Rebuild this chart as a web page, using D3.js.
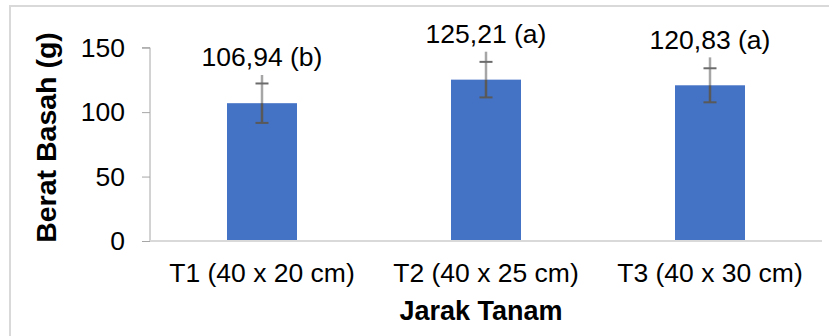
<!DOCTYPE html>
<html>
<head>
<meta charset="utf-8">
<script src="https://cdn.jsdelivr.net/npm/d3@7/dist/d3.min.js"></script>
<style>
  html, body { margin: 0; padding: 0; background: #fff; }
  svg { display: block; font-family: "Liberation Sans", Arial, sans-serif; }
</style>
</head>
<body>
<svg id="chart" width="829" height="336"></svg>
<script>
// Fresh weight per planting distance
const categories = ["T1 (40 x 20 cm)", "T2 (40 x 25 cm)", "T3 (40 x 30 cm)"];
const means = [106.94, 125.21, 120.83];
const letters = ["b", "a", "a"];
const stdDev = [15.3, 13.8, 13.2];
const whiskerTop = [128.8, 146.9, 142.5];
const yTicks = [0, 50, 100, 150];

const svg = d3.select("#chart");

// Chart frame
svg.append("rect")
  .attr("x", 10).attr("y", 6)
  .attr("width", 840).attr("height", 360)
  .attr("fill", "none")
  .attr("stroke", "#d9d9d9")
  .attr("stroke-width", 2);

const x = d3.scaleBand()
  .domain(categories)
  .range([150, 822])
  .paddingInner(0.6875)
  .paddingOuter(0.34375);

const y = d3.scaleLinear()
  .domain([0, 150])
  .range([241, 47.7]);

// Y axis
const yAxis = d3.axisLeft(y).tickValues(yTicks).tickSize(8).tickPadding(17);
const gy = svg.append("g").attr("transform", "translate(150,0)").call(yAxis);
gy.select(".domain").attr("stroke", "#a6a6a6").attr("stroke-width", 1)
  .attr("d", `M-8,${y(150)}H0V${y(0)}`);
gy.selectAll(".tick line").attr("stroke", "#a6a6a6");
gy.selectAll(".tick text")
  .attr("font-size", 26.5)
  .attr("fill", "#000")
  .attr("font-family", "Liberation Sans, Arial, sans-serif");

// Bars
svg.append("g").selectAll("rect")
  .data(categories)
  .join("rect")
  .attr("x", d => x(d))
  .attr("y", (d, i) => y(means[i]))
  .attr("width", x.bandwidth())
  .attr("height", (d, i) => y(0) - y(means[i]))
  .attr("fill", "#4472c4");

// X baseline
svg.append("line")
  .attr("x1", 150).attr("x2", 822)
  .attr("y1", y(0)).attr("y2", y(0))
  .attr("stroke", "#d9d9d9").attr("stroke-width", 2);

// Category labels
svg.append("g").selectAll("text")
  .data(categories)
  .join("text")
  .attr("x", d => x(d) + x.bandwidth() / 2)
  .attr("y", 282.3)
  .attr("text-anchor", "middle")
  .attr("font-size", 26.5)
  .attr("fill", "#000")
  .text(d => d);

// Error bars
const eb = svg.append("g").selectAll("g")
  .data(categories)
  .join("g")
  .attr("transform", d => `translate(${x(d) + x.bandwidth() / 2},0)`);

eb.append("line")
  .attr("x1", 0).attr("x2", 0)
  .attr("y1", (d, i) => y(whiskerTop[i]))
  .attr("y2", (d, i) => y(means[i]))
  .attr("stroke", "#a6a6a6").attr("stroke-width", 2.5);

eb.append("line")
  .attr("x1", 0).attr("x2", 0)
  .attr("y1", (d, i) => y(means[i]))
  .attr("y2", (d, i) => y(means[i] - stdDev[i]))
  .attr("stroke", "#595959").attr("stroke-width", 2.5);

eb.append("line")
  .attr("x1", -6.5).attr("x2", 6.5)
  .attr("y1", (d, i) => y(means[i] + stdDev[i]))
  .attr("y2", (d, i) => y(means[i] + stdDev[i]))
  .attr("stroke", "#6b6b6b").attr("stroke-width", 2);

eb.append("line")
  .attr("x1", -6.5).attr("x2", 6.5)
  .attr("y1", (d, i) => y(means[i] - stdDev[i]))
  .attr("y2", (d, i) => y(means[i] - stdDev[i]))
  .attr("stroke", "#595959").attr("stroke-width", 2);

// Value labels with significance letters
const fmt = v => v.toFixed(2).replace(".", ",");
svg.append("g").selectAll("text")
  .data(categories)
  .join("text")
  .attr("x", d => x(d) + x.bandwidth() / 2)
  .attr("y", (d, i) => y(whiskerTop[i]) - 8.7)
  .attr("text-anchor", "middle")
  .attr("font-size", 26.5)
  .attr("fill", "#000")
  .text((d, i) => `${fmt(means[i])} (${letters[i]})`);

// Axis titles
svg.append("text")
  .attr("x", (150 + 822) / 2 - 5)
  .attr("y", 320)
  .attr("text-anchor", "middle")
  .attr("font-size", 27)
  .attr("font-weight", "bold")
  .attr("fill", "#000")
  .text("Jarak Tanam");

svg.append("text")
  .attr("transform", "translate(55.5,137.5) rotate(-90)")
  .attr("text-anchor", "middle")
  .attr("font-size", 28.5)
  .attr("font-weight", "bold")
  .attr("fill", "#000")
  .text("Berat Basah (g)");
</script>
</body>
</html>
